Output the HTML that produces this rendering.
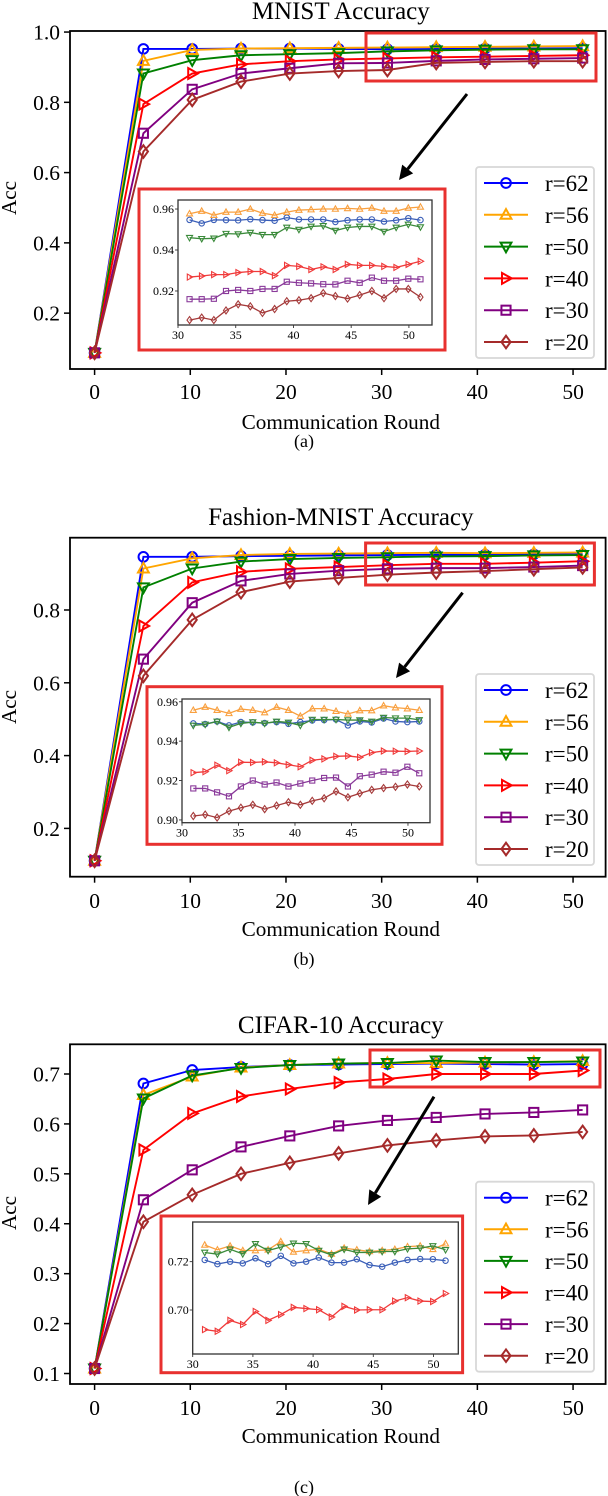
<!DOCTYPE html>
<html><head><meta charset="utf-8"><style>
html,body{margin:0;padding:0;background:#fff;}
svg{display:block;font-family:"Liberation Serif","DejaVu Serif",serif;}
</style></head><body>
<svg id="fig" width="608" height="1496" viewBox="0 0 608 1496" xmlns="http://www.w3.org/2000/svg"></svg>
<script>
// ---- data ----
const mainX = [0, 5.1, 10.2, 15.3, 20.4, 25.5, 30.6, 35.7, 40.8, 45.9, 51];
const seriesLabels = ["r=62", "r=56", "r=50", "r=40", "r=30", "r=20"];
const xTicks = [0, 10, 20, 30, 40, 50];
const insetXTicks = [30, 35, 40, 45, 50];

const mnistR62 = [0.087,0.952,0.952,0.953,0.953,0.952,0.951,0.952,0.953,0.953,0.954];
const mnistR56 = [0.087,0.918,0.949,0.953,0.954,0.955,0.956,0.957,0.958,0.959,0.960];
const mnistR50 = [0.087,0.882,0.920,0.934,0.937,0.940,0.945,0.948,0.950,0.951,0.951];
const mnistR40 = [0.087,0.795,0.882,0.908,0.917,0.922,0.925,0.928,0.930,0.932,0.934];
const mnistR30 = [0.087,0.712,0.837,0.882,0.897,0.911,0.912,0.918,0.922,0.924,0.926];
const mnistR20 = [0.087,0.660,0.807,0.859,0.882,0.889,0.892,0.912,0.915,0.917,0.917];
const mnistYTicks = [0.2, 0.4, 0.6, 0.8, 1.0];
const mnistInR62 = [.9547,.9530,.9547,.9546,.9545,.9550,.9546,.9543,.9558,.9549,.9549,.9549,.9537,.9545,.9549,.9549,.9539,.9545,.9555,.9546];
const mnistInR56 = [.9577,.9590,.9570,.9585,.9585,.9600,.9580,.9570,.9585,.9595,.9597,.9600,.9600,.9603,.9600,.9605,.9590,.9590,.9605,.9610];
const mnistInR50 = [.9460,.9455,.9457,.9480,.9478,.9485,.9475,.9475,.9510,.9500,.9515,.9518,.9495,.9510,.9515,.9515,.9490,.9510,.9525,.9512];
const mnistInR40 = [.9268,.9273,.9280,.9280,.9290,.9295,.9295,.9275,.9325,.9320,.9305,.9318,.9305,.9330,.9325,.9325,.9320,.9315,.9330,.9345];
const mnistInR30 = [.9160,.9160,.9162,.9200,.9205,.9200,.9210,.9210,.9245,.9240,.9237,.9233,.9232,.9250,.9240,.9265,.9250,.9250,.9260,.9257];
const mnistInR20 = [.9058,.9070,.9058,.9105,.9135,.9125,.9093,.9112,.9150,.9155,.9165,.9190,.9175,.9163,.9180,.9200,.9165,.9210,.9210,.9170];
const mnistInYTicks = [0.92, 0.94, 0.96];

const fashionR62 = [0.111,0.946,0.946,0.948,0.949,0.950,0.951,0.952,0.952,0.953,0.953];
const fashionR56 = [0.111,0.914,0.942,0.951,0.954,0.955,0.956,0.957,0.956,0.957,0.958];
const fashionR50 = [0.111,0.862,0.914,0.933,0.940,0.943,0.945,0.947,0.948,0.950,0.951];
const fashionR40 = [0.111,0.756,0.876,0.905,0.913,0.918,0.923,0.927,0.927,0.930,0.934];
const fashionR30 = [0.111,0.665,0.820,0.880,0.899,0.908,0.913,0.915,0.915,0.918,0.922];
const fashionR20 = [0.111,0.619,0.773,0.849,0.878,0.888,0.897,0.903,0.907,0.912,0.917];
const fashionYTicks = [0.2, 0.4, 0.6, 0.8];
const fashionInR62 = [.9490,.9487,.9500,.9480,.9497,.9495,.9492,.9497,.9488,.9497,.9505,.9507,.9510,.9480,.9500,.9495,.9515,.9500,.9497,.9500];
const fashionInR56 = [.9557,.9573,.9557,.9541,.9563,.9557,.9545,.9573,.9557,.9527,.9565,.9565,.9552,.9538,.9555,.9555,.9580,.9570,.9565,.9557];
const fashionInR50 = [.9480,.9485,.9500,.9470,.9490,.9497,.9490,.9500,.9495,.9480,.9510,.9510,.9510,.9507,.9507,.9500,.9520,.9517,.9517,.9508];
const fashionInR40 = [.9240,.9245,.9278,.9250,.9293,.9292,.9295,.9290,.9280,.9270,.9303,.9310,.9323,.9325,.9318,.9342,.9350,.9349,.9348,.9350];
const fashionInR30 = [.9160,.9160,.9140,.9120,.9170,.9200,.9180,.9190,.9170,.9185,.9200,.9213,.9215,.9170,.9222,.9230,.9245,.9240,.9270,.9237];
const fashionInR20 = [.9020,.9027,.9012,.9045,.9062,.9077,.9055,.9073,.9090,.9077,.9097,.9110,.9145,.9115,.9135,.9153,.9162,.9168,.9180,.9170];
const fashionInYTicks = [0.90, 0.92, 0.94, 0.96];

const cifarR62 = [0.110,0.681,0.708,0.714,0.718,0.719,0.720,0.721,0.720,0.719,0.720];
const cifarR56 = [0.110,0.658,0.695,0.713,0.718,0.721,0.722,0.722,0.723,0.724,0.726];
const cifarR50 = [0.110,0.651,0.697,0.712,0.718,0.721,0.722,0.727,0.724,0.724,0.725];
const cifarR40 = [0.110,0.548,0.621,0.655,0.670,0.683,0.690,0.700,0.700,0.700,0.707];
const cifarR30 = [0.110,0.448,0.508,0.554,0.576,0.596,0.607,0.613,0.620,0.623,0.628];
const cifarR20 = [0.110,0.404,0.458,0.500,0.522,0.541,0.557,0.567,0.575,0.577,0.584];
const cifarYTicks = [0.1, 0.2, 0.3, 0.4, 0.5, 0.6, 0.7];
const cifarInR62 = [.7207,.7190,.7200,.7193,.7214,.7190,.7224,.7193,.7200,.7217,.7196,.7196,.7210,.7186,.7179,.7196,.7207,.7211,.7210,.7204];
const cifarInR56 = [.7269,.7249,.7265,.7246,.7246,.7249,.7283,.7240,.7246,.7251,.7232,.7256,.7249,.7242,.7246,.7251,.7262,.7265,.7251,.7274];
const cifarInR50 = [.7238,.7231,.7251,.7232,.7274,.7246,.7260,.7276,.7274,.7246,.7228,.7251,.7238,.7238,.7242,.7242,.7253,.7256,.7265,.7249];
const cifarInR40 = [.6919,.6912,.6957,.6940,.6994,.6957,.6981,.7011,.7006,.7001,.6971,.7015,.7000,.7001,.7001,.7037,.7051,.7037,.7035,.7068];
const cifarInYTicks = [0.70, 0.72];

// ---- drawing ----
const NS = "http://www.w3.org/2000/svg";
const svg = document.getElementById("fig");
const COLORS = ["#0000ff", "#ffa500", "#008000", "#ff0000", "#800080", "#a52a2a"];
const IN_COLORS = ["#3b5fb8", "#f9a03f", "#3a8a3a", "#f03a3a", "#8a3a9a", "#a53a3a"];
const MARKERS = ["o", "^", "v", ">", "s", "D"];

function el(tag, attrs, parent) {
  const e = document.createElementNS(NS, tag);
  for (const k in attrs) e.setAttribute(k, attrs[k]);
  (parent || svg).appendChild(e);
  return e;
}
function markerShape(parent, type, cx, cy, s, color, sw) {
  let e;
  if (type === "o") e = el("circle", {cx: cx, cy: cy, r: s * 0.85}, parent);
  else if (type === "s") e = el("rect", {x: cx - s * 0.8, y: cy - s * 0.8, width: s * 1.6, height: s * 1.6}, parent);
  else {
    let pts;
    if (type === "^") pts = [[0,-s],[s*0.95,s*0.7],[-s*0.95,s*0.7]];
    else if (type === "v") pts = [[0,s],[s*0.95,-s*0.7],[-s*0.95,-s*0.7]];
    else if (type === ">") pts = [[s,0],[-s*0.7,s*0.95],[-s*0.7,-s*0.95]];
    else pts = [[0,-s*1.1],[s*0.8,0],[0,s*1.1],[-s*0.8,0]];
    e = el("polygon", {points: pts.map(p => (cx + p[0]) + "," + (cy + p[1])).join(" ")}, parent);
  }
  e.setAttribute("fill", "none");
  e.setAttribute("stroke", color);
  e.setAttribute("stroke-width", sw);
  
  
  return e;
}
function scaler(d0, d1, p0, p1) { return v => p0 + (v - d0) / (d1 - d0) * (p1 - p0); }
function text(parent, x, y, str, size, anchor, name) {
  const t = el("text", {x: x, y: y, "font-size": size, "text-anchor": anchor || "middle", fill: "#000"}, parent);
  t.textContent = str;
  
  
  return t;
}

function drawPanel(cfg) {
  const g = el("g", {});
  
  
  const [L, T, R, B] = cfg.ax;
  const sx = scaler(-2.57, 53.4, L, R);
  const sy = scaler(cfg.yl[0], cfg.yl[1], B, T);
  text(g, (L + R) / 2 + 3, cfg.titleY, cfg.title, 25, "middle", "chart-title");
  cfg.series.forEach((vals, i) => {
    const sg = el("g", {}, g);
    
    
    const line = el("polyline", {points: vals.map((v, k) => sx(mainX[k]) + "," + sy(v)).join(" "), fill: "none", stroke: COLORS[i], "stroke-width": 1.9}, sg);
    
    
    vals.forEach((v, k) => markerShape(sg, MARKERS[i], sx(mainX[k]), sy(v), 5.7, COLORS[i], 2));
  });
  const fr = el("rect", {x: L, y: T, width: R - L, height: B - T, fill: "none", stroke: "#000", "stroke-width": 1.8}, g);
  
  
  xTicks.forEach(v => {
    const tk = el("line", {x1: sx(v), x2: sx(v), y1: B, y2: B + 6, stroke: "#000", "stroke-width": 1.5}, g);
    
    
    text(g, sx(v), cfg.xTickY, String(v), 21.5, "middle", "x-tick-label");
  });
  cfg.yTicks.forEach(v => {
    const tk = el("line", {x1: L - 6, x2: L, y1: sy(v), y2: sy(v), stroke: "#000", "stroke-width": 1.5}, g);
    
    
    text(g, L - 10, sy(v) + 7.5, v.toFixed(1), 21.5, "end", "y-tick-label");
  });
  text(g, (L + R) / 2 + 3, cfg.xLabelY, "Communication Round", 21.2, "middle", "x-axis-title");
  const yl = text(g, 0, 0, "Acc", 21.2, "middle", "y-axis-title");
  yl.setAttribute("transform", "translate(16," + cfg.accY + ") rotate(-90)");
  text(g, 304, cfg.capY, cfg.caption, 18, "middle", "subfigure-caption");
  const zr = cfg.zoomRect;
  const z = el("rect", {x: zr[0], y: zr[1], width: zr[2] - zr[0], height: zr[3] - zr[1], fill: "none", stroke: "#e8312f", "stroke-width": 3}, g);
  
  
  const a = cfg.arrow;
  const ang = Math.atan2(a[3] - a[1], a[2] - a[0]);
  const hl = 14, hw = 7;
  const bx = a[2] - hl * Math.cos(ang), by = a[3] - hl * Math.sin(ang);
  const ar = el("line", {x1: a[0], y1: a[1], x2: bx, y2: by, stroke: "#000", "stroke-width": 3}, g);
  
  
  const ah = el("polygon", {points: a[2] + "," + a[3] + " " + (bx + hw * Math.sin(ang)) + "," + (by - hw * Math.cos(ang)) + " " + (bx - hw * Math.sin(ang)) + "," + (by + hw * Math.cos(ang)), fill: "#000"}, g);
  
  
  const ig = el("g", {}, g);
  
  
  const ib = cfg.insetBox;
  const ibr = el("rect", {x: ib[0], y: ib[1], width: ib[2] - ib[0], height: ib[3] - ib[1], fill: "#fff", stroke: "#e8312f", "stroke-width": 3}, ig);
  
  
  const [iL, iT, iR, iB] = cfg.insetAx;
  const isx = scaler(30, cfg.insetXMax, iL, iR);
  const isy = scaler(cfg.insetYl[0], cfg.insetYl[1], iB, iT);
  cfg.inset.forEach((vals, i) => {
    if (!vals) return;
    const sg = el("g", {}, ig);
    
    
    const xs = vals.map((v, k) => 31 + k * 20 / (vals.length - 1));
    const line = el("polyline", {points: vals.map((v, k) => isx(xs[k]) + "," + isy(v)).join(" "), fill: "none", stroke: IN_COLORS[i], "stroke-width": 1.3}, sg);
    
    
    vals.forEach((v, k) => markerShape(sg, MARKERS[i], isx(xs[k]), isy(v), 3.2, IN_COLORS[i], 1.1));
  });
  const ifr = el("rect", {x: iL, y: iT, width: iR - iL, height: iB - iT, fill: "none", stroke: "#333", "stroke-width": 1.3}, ig);
  
  
  insetXTicks.forEach(v => {
    const tk = el("line", {x1: isx(v), x2: isx(v), y1: iB, y2: iB + 3, stroke: "#333", "stroke-width": 0.9}, ig);
    
    
    text(ig, isx(v), iB + 14, String(v), 12, "middle", "inset-x-tick-label");
  });
  cfg.insetYTicks.forEach(v => {
    const tk = el("line", {x1: iL - 3, x2: iL, y1: isy(v), y2: isy(v), stroke: "#333", "stroke-width": 0.9}, ig);
    
    
    text(ig, iL - 4, isy(v) + 4, v.toFixed(2), 12, "end", "inset-y-tick-label");
  });
  const lg = cfg.legend;
  const leg = el("g", {}, g);
  
  
  const lb = el("rect", {x: lg[0], y: lg[1], width: lg[2] - lg[0], height: lg[3] - lg[1], rx: 3, fill: "#fff", stroke: "#d8d8d8", "stroke-width": 1.8}, leg);
  
  
  const step = (lg[3] - lg[1] - 32) / 5;
  seriesLabels.forEach((lab, i) => {
    const yy = lg[1] + 16 + i * step;
    const e = el("g", {}, leg);
    
    
    const ln = el("line", {x1: lg[0] + 8, x2: lg[0] + 52, y1: yy, y2: yy, stroke: COLORS[i], "stroke-width": 2}, e);
    
    
    markerShape(e, MARKERS[i], lg[0] + 30, yy, 5.7, COLORS[i], 2);
    text(e, lg[0] + 69, yy + 8, lab, 23, "start", "legend-label");
  });
}

drawPanel({name: "mnist-panel", title: "MNIST Accuracy", caption: "(a)",
  ax: [70, 31, 605.6, 369], yl: [0.041, 1.003], yTicks: mnistYTicks,
  series: [mnistR62, mnistR56, mnistR50, mnistR40, mnistR30, mnistR20],
  titleY: 19, xTickY: 399, xLabelY: 429, accY: 198, capY: 447,
  zoomRect: [366, 33, 596, 81], arrow: [467, 94, 399, 180],
  insetBox: [139, 189, 445, 350], insetAx: [178, 200, 432, 325], insetXMax: 52, insetYl: [0.9034, 0.9644],
  inset: [mnistInR62, mnistInR56, mnistInR50, mnistInR40, mnistInR30, mnistInR20], insetYTicks: mnistInYTicks,
  legend: [476, 167, 594, 358]});

drawPanel({name: "fashion-mnist-panel", title: "Fashion-MNIST Accuracy", caption: "(b)",
  ax: [70, 537.7, 605.6, 876.7], yl: [0.0673, 0.9986], yTicks: fashionYTicks,
  series: [fashionR62, fashionR56, fashionR50, fashionR40, fashionR30, fashionR20],
  titleY: 525, xTickY: 908, xLabelY: 936, accY: 707, capY: 965,
  zoomRect: [365.6, 543, 594.4, 585], arrow: [462.6, 592.7, 396, 678],
  insetBox: [147, 686.7, 442, 844.3], insetAx: [182, 699, 430, 822.7], insetXMax: 51.95, insetYl: [0.8986, 0.9614],
  inset: [fashionInR62, fashionInR56, fashionInR50, fashionInR40, fashionInR30, fashionInR20], insetYTicks: fashionInYTicks,
  legend: [476, 674, 594, 865]});

drawPanel({name: "cifar10-panel", title: "CIFAR-10 Accuracy", caption: "(c)",
  ax: [70, 1044.3, 605.6, 1384], yl: [0.079, 0.7595], yTicks: cifarYTicks,
  series: [cifarR62, cifarR56, cifarR50, cifarR40, cifarR30, cifarR20],
  titleY: 1033, xTickY: 1415, xLabelY: 1443, accY: 1213, capY: 1493,
  zoomRect: [370, 1050, 600, 1087], arrow: [434, 1096.7, 368, 1205],
  insetBox: [161, 1216, 462.6, 1372.7], insetAx: [192.7, 1222, 458.3, 1354], insetXMax: 52.06, insetYl: [0.6818, 0.7364],
  inset: [cifarInR62, cifarInR56, cifarInR50, cifarInR40, null, null], insetYTicks: cifarInYTicks,
  legend: [476, 1181.7, 594, 1371.7]});
</script>
</body></html>
